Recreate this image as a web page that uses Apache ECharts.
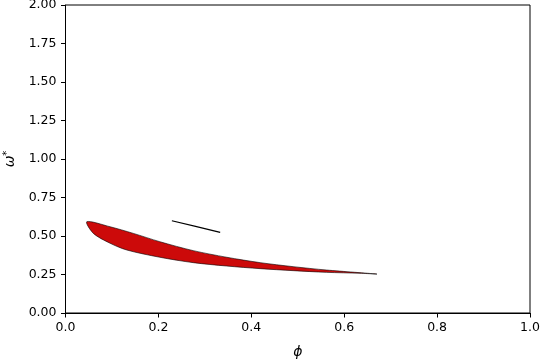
<!DOCTYPE html>
<html>
<head>
<meta charset="utf-8">
<script src="https://cdn.jsdelivr.net/npm/echarts@6/dist/echarts.min.js"></script>
<style>
  html, body { margin: 0; padding: 0; background: #fff; }
  #chart { width: 540px; height: 360px; }
</style>
</head>
<body>
<div id="chart"></div>
<script>
// upper edge of the red region, from the left tip to the right tip
const upperPhi = [0.046, 0.096, 0.146, 0.203, 0.275, 0.347, 0.419, 0.490, 0.562, 0.670]
const upperOmega = [0.593, 0.560, 0.517, 0.463, 0.405, 0.362, 0.327, 0.301, 0.279, 0.253]
// lower edge, from the right tip back to the left tip
const lowerPhi = [0.634, 0.562, 0.490, 0.419, 0.347, 0.275, 0.203, 0.132, 0.096, 0.060]
const lowerOmega = [0.258, 0.264, 0.275, 0.288, 0.305, 0.327, 0.362, 0.409, 0.453, 0.517]
// short black segment
const segPhi = [0.229, 0.280, 0.333]
const segOmega = [0.599, 0.563, 0.524]

const region = upperPhi.map((x, i) => [x, upperOmega[i]])
  .concat(lowerPhi.map((x, i) => [x, lowerOmega[i]]))
const segment = segPhi.map((x, i) => [x, segOmega[i]])

const chart = echarts.init(document.getElementById('chart'))
const font = 'DejaVu Sans'

chart.setOption({
  animation: false,
  grid: {
    left: 65.5, right: 10, top: 5, bottom: 47,
    outerBoundsMode: 'none', containLabel: false,
    show: true, borderColor: '#000', borderWidth: 1
  },
  xAxis: {
    type: 'value', min: 0, max: 1, interval: 0.2,
    name: 'ϕ', nameLocation: 'middle', nameGap: 32,
    nameTextStyle: { fontFamily: font, fontSize: 14, fontStyle: 'italic', color: '#000' },
    axisLine: { show: true, lineStyle: { color: '#000' } },
    axisTick: { show: true, length: 4.5, lineStyle: { color: '#000' } },
    axisLabel: {
      fontFamily: font, fontSize: 12.5, color: '#000', margin: 8,
      formatter: v => v.toFixed(1)
    },
    splitLine: { show: false }
  },
  yAxis: {
    type: 'value', min: 0, max: 2, interval: 0.25,
    name: '{w|ω}{s|*}', nameLocation: 'middle', nameGap: 45, nameRotate: 90,
    nameTextStyle: {
      rich: {
        w: { fontFamily: font, fontSize: 14, fontStyle: 'italic', color: '#000' },
        s: { fontFamily: font, fontSize: 10, color: '#000', padding: [0, 0, 6, 0] }
      }
    },
    axisLine: { show: true, lineStyle: { color: '#000' } },
    axisTick: { show: true, length: 4.5, lineStyle: { color: '#000' } },
    axisLabel: {
      fontFamily: font, fontSize: 12.5, color: '#000', margin: 9,
      formatter: v => v.toFixed(2)
    },
    splitLine: { show: false }
  },
  series: [
    {
      type: 'custom',
      data: region,
      renderItem: (params, api) => {
        if (params.dataIndex !== 0) return
        const points = region.map(p => api.coord(p))
        return {
          type: 'polygon',
          shape: { points, smooth: 0.3 },
          style: { fill: '#cc0a0a', stroke: '#000', lineWidth: 0.6 }
        }
      }
    },
    {
      type: 'line',
      data: segment,
      smooth: true,
      showSymbol: false,
      lineStyle: { color: '#000', width: 1.2 }
    }
  ]
})
</script>
</body>
</html>
